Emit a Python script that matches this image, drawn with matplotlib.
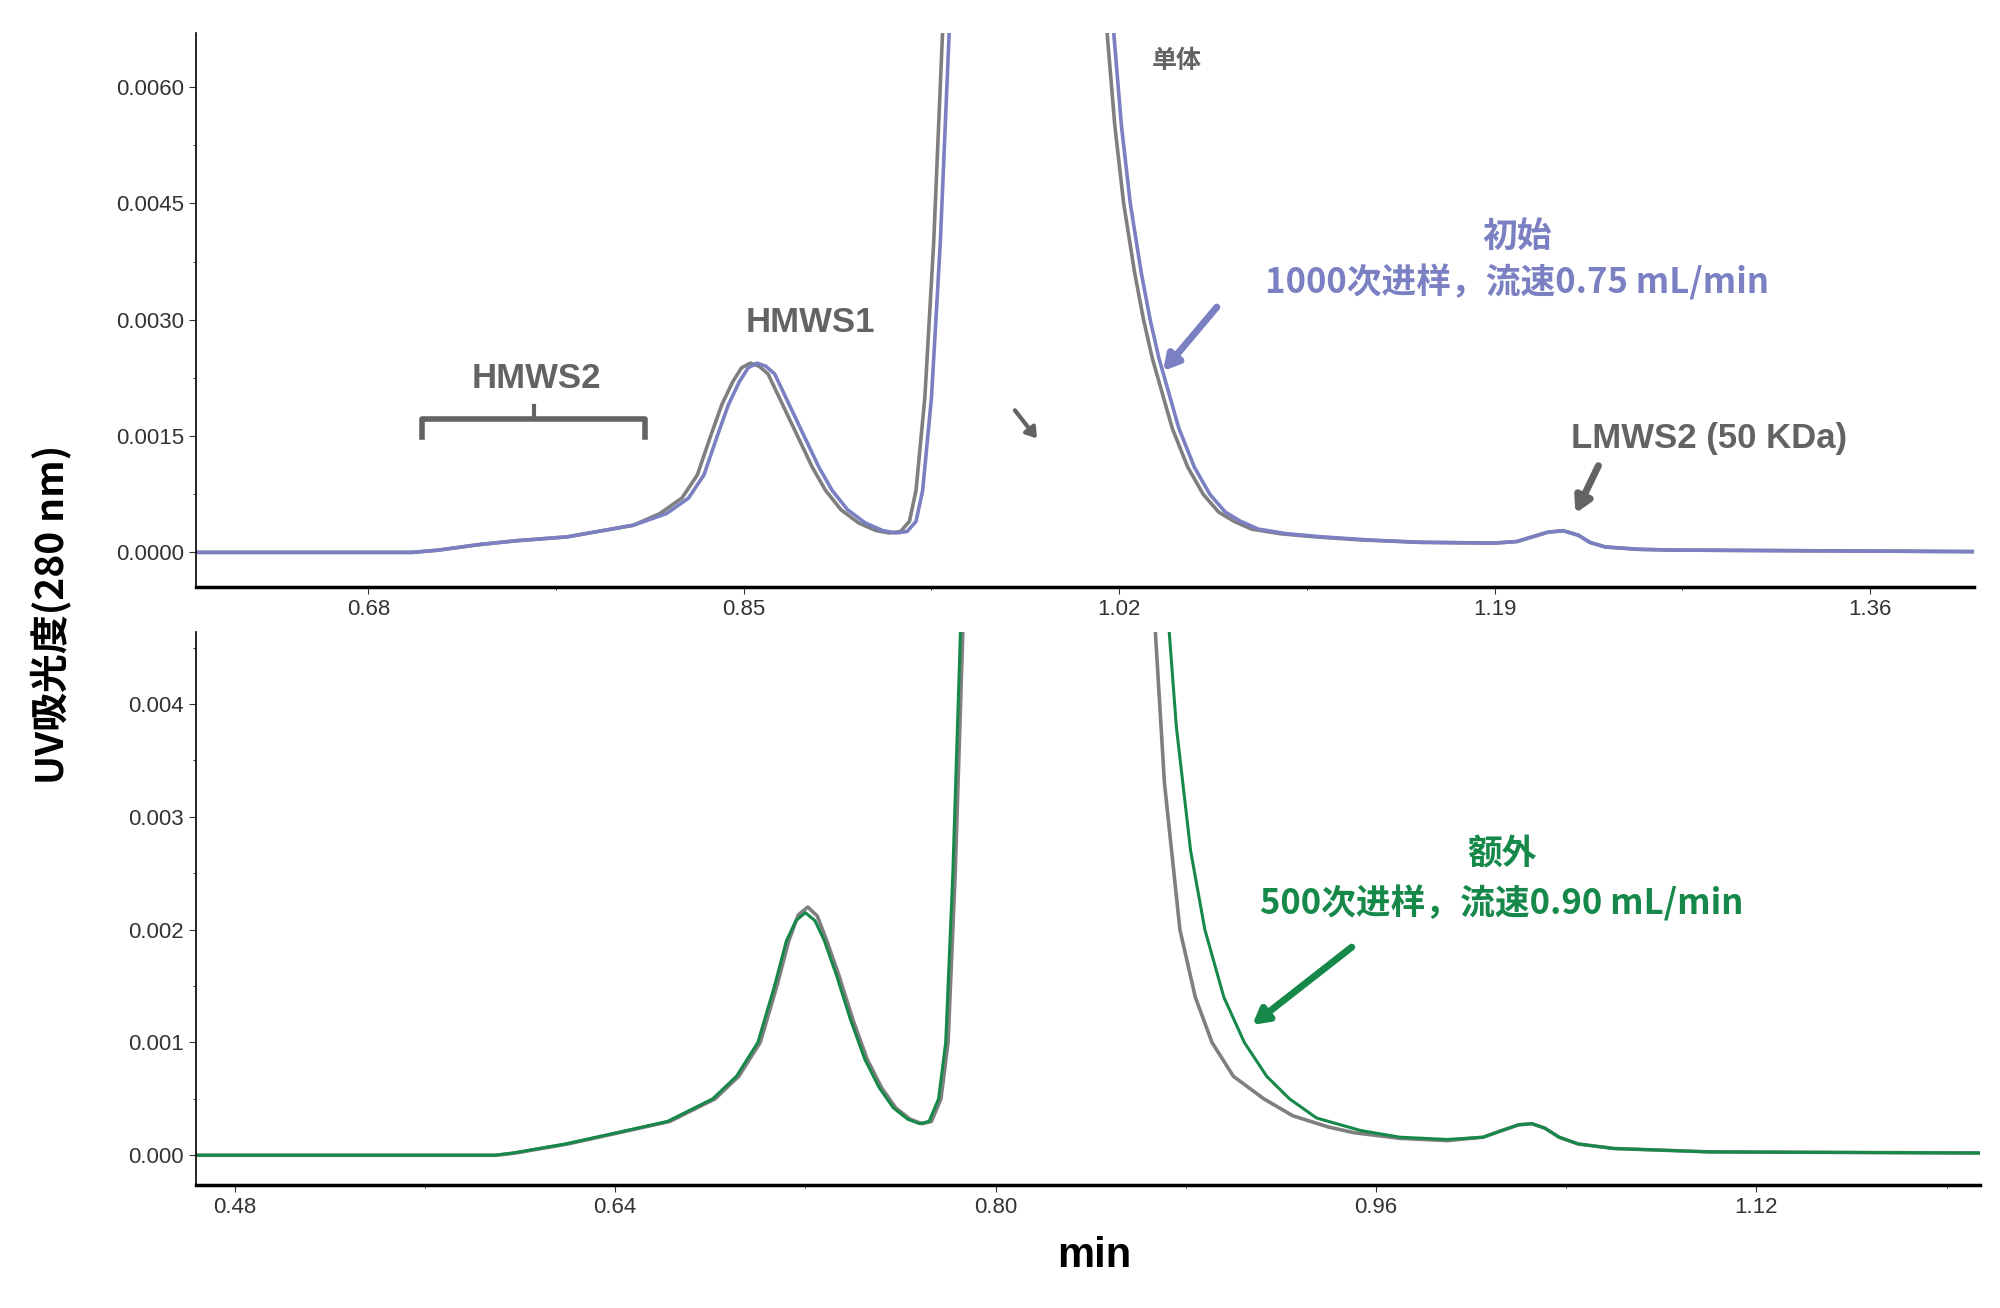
import matplotlib
matplotlib.use("Agg")
import matplotlib.pyplot as plt
from matplotlib.ticker import MultipleLocator
from matplotlib import font_manager as fm

# ---- data ----
top_gray_x = [0.602,0.70,0.712,0.73,0.747,0.77,0.80,0.812,0.822,0.829,0.835,0.840,0.845,0.849,0.853,0.857,0.861,0.866,0.871,0.876,0.881,0.887,0.894,0.902,0.910,0.916,0.921,0.925,0.928,0.932,0.936,0.940,0.945,0.96,0.98,1.0,1.010,1.0145,1.018,1.022,1.027,1.031,1.035,1.039,1.044,1.051,1.058,1.065,1.072,1.08,1.093,1.109,1.13,1.156,1.19,1.200,1.207,1.214,1.221,1.228,1.233,1.240,1.255,1.27,1.407]
top_gray_y = [0.0,0.0,0.00003,0.0001,0.00015,0.0002,0.00035,0.0005,0.0007,0.001,0.0015,0.0019,0.0022,0.00238,0.00244,0.0024,0.0023,0.0020,0.0017,0.0014,0.0011,0.0008,0.00055,0.00038,0.00028,0.00025,0.00027,0.0004,0.0008,0.002,0.004,0.0067,0.012,0.03,0.05,0.03,0.012,0.0067,0.0055,0.0045,0.0036,0.003,0.0025,0.0021,0.0016,0.0011,0.00075,0.00052,0.0004,0.0003,0.00024,0.0002,0.00016,0.00013,0.00012,0.00014,0.0002,0.00026,0.00028,0.00022,0.00013,0.00007,0.00004,0.00003,0.00001]
top_blue_x = [v + (0.003 if 0.81 < v < 1.15 else 0.0) for v in top_gray_x]
top_blue_y = top_gray_y

bot_gray_x = [0.4637,0.59,0.598,0.62,0.6416,0.663,0.682,0.692,0.701,0.708,0.713,0.717,0.721,0.725,0.729,0.734,0.740,0.746,0.752,0.758,0.764,0.769,0.773,0.777,0.780,0.783,0.786,0.790,0.795,0.81,0.83,0.85,0.860,0.864,0.867,0.871,0.8775,0.884,0.891,0.90,0.9128,0.925,0.94,0.9507,0.97,0.99,1.005,1.013,1.020,1.0255,1.031,1.037,1.045,1.06,1.10,1.214]
bot_gray_y = [0.0,0.0,0.00002,0.0001,0.0002,0.0003,0.0005,0.0007,0.001,0.0015,0.0019,0.00213,0.0022,0.00212,0.0019,0.0016,0.0012,0.00085,0.0006,0.00042,0.00032,0.00028,0.0003,0.0005,0.001,0.0025,0.0045,0.0075,0.012,0.03,0.05,0.03,0.009,0.0065,0.0047,0.0033,0.002,0.0014,0.001,0.0007,0.0005,0.00035,0.00025,0.0002,0.00015,0.00013,0.00016,0.00022,0.00027,0.00028,0.00024,0.00016,0.0001,0.00006,0.00003,0.00002]
bot_green_x = [v - 0.001 if v < 0.80 else v for v in bot_gray_x[:29]] + [0.81,0.83,0.852,0.863,0.8678,0.871,0.876,0.882,0.888,0.896,0.9046,0.914,0.9236,0.935,0.9534,0.97,0.99,1.005,1.013,1.020,1.0255,1.031,1.037,1.045,1.06,1.10,1.214]
bot_green_y = bot_gray_y[:10] + [0.0019,0.00208,0.00215,0.00208,0.0019] + bot_gray_y[15:29] + [0.03,0.05,0.03,0.009,0.0065,0.0052,0.0038,0.0027,0.002,0.0014,0.001,0.0007,0.0005,0.00033,0.00022,0.00016,0.00014,0.00016,0.00022,0.00027,0.00028,0.00024,0.00016,0.0001,0.00006,0.00003,0.00002]

top_xticks = [0.68,0.85,1.02,1.19,1.36]
top_yticks = [0.0000,0.0015,0.0030,0.0045,0.0060]
bot_xticks = [0.48,0.64,0.80,0.96,1.12]
bot_yticks = [0.000,0.001,0.002,0.003,0.004]

GRAY = "#7f7f7f"; BLUE = "#7a80c2"; GREEN = "#16894a"; TXT = "#636363"
LAT = "Liberation Sans"

def find_cjk(bold=True):
    cands = [f for f in fm.findSystemFonts() if "CJK" in f or "NotoSansSC" in f or "NotoSansCJK" in f]
    pref = [f for f in cands if ("Bold" in f) == bold] or cands
    pref.sort(key=lambda f: (0 if "SC" in f else 1, 0 if f.endswith((".otf", ".ttf")) else 1))
    return pref[0] if pref else None

_f = find_cjk(True)
def cjk(size):
    if _f:
        return fm.FontProperties(fname=_f, size=size)
    return fm.FontProperties(family="Noto Sans CJK SC", weight="bold", size=size)

fig = plt.figure(figsize=(20, 13.08), dpi=100)
ax1 = fig.add_axes([0.098, 0.551, 0.889, 0.424])
ax2 = fig.add_axes([0.098, 0.094, 0.892, 0.423])

ax1.plot(top_gray_x, top_gray_y, color=GRAY, lw=2.6)
ax1.plot(top_blue_x, top_blue_y, color=BLUE, lw=2.6)
ax1.set_xlim(0.602, 1.407); ax1.set_ylim(-0.00045, 0.0067)
ax2.plot(bot_gray_x, bot_gray_y, color=GRAY, lw=2.6)
ax2.plot(bot_green_x, bot_green_y, color=GREEN, lw=2.2)
ax2.set_xlim(0.4637, 1.214); ax2.set_ylim(-0.000264, 0.00464)

for ax, xt, yt, fmt, xm, ym in [(ax1, top_xticks, top_yticks, "{:.4f}", 0.085, 0.00075),
                                (ax2, bot_xticks, bot_yticks, "{:.3f}", 0.08, 0.0005)]:
    ax.spines["top"].set_visible(False); ax.spines["right"].set_visible(False)
    ax.spines["left"].set_linewidth(1.2); ax.spines["bottom"].set_linewidth(2.5)
    ax.set_xticks(xt); ax.set_xticklabels([f"{v:.2f}" for v in xt])
    ax.set_yticks(yt); ax.set_yticklabels([fmt.format(v) for v in yt])
    ax.xaxis.set_minor_locator(MultipleLocator(xm)); ax.yaxis.set_minor_locator(MultipleLocator(ym))
    ax.tick_params(labelsize=16, length=5, colors="#333333")
    for lab in ax.get_xticklabels() + ax.get_yticklabels():
        lab.set_fontfamily(LAT)

def txt(ax, x, y, s, c, size=25):
    ax.text(x, y, s, color=c, fontsize=size, fontweight="bold", ha="center", va="center", fontfamily=LAT)

def ctxt(ax, x, y, s, c, size=24):
    ax.text(x, y, s, color=c, fontproperties=cjk(size), ha="center", va="center")

ctxt(ax1, 1.046, 0.00633, "单体", TXT, 18)
ctxt(ax1, 1.2, 0.00408, "初始", BLUE, 25)
ctxt(ax1, 1.2, 0.00348, "1000次进样，流速0.75 mL/min", BLUE, 25)
txt(ax1, 0.88, 0.00297, "HMWS1", TXT)
txt(ax1, 0.756, 0.00224, "HMWS2", TXT)
txt(ax1, 1.287, 0.00147, "LMWS2 (50 KDa)", TXT)
ax1.plot([0.7045, 0.7045, 0.8055, 0.8055], [0.00149, 0.00172, 0.00172, 0.00149], color=TXT, lw=4)
ax1.plot([0.755, 0.755], [0.00172, 0.00189], color=TXT, lw=3)
arr = dict(arrowstyle="-|>,head_width=0.5,head_length=0.9", lw=5)
ax1.annotate("", xy=(1.039, 0.00231), xytext=(1.065, 0.00319), arrowprops=dict(arr, color=BLUE))
ax1.annotate("", xy=(0.9835, 0.00144), xytext=(0.972, 0.00186),
             arrowprops=dict(arrowstyle="-|>,head_width=0.4,head_length=0.6", lw=3, color=TXT))
ax1.annotate("", xy=(1.226, 0.00047), xytext=(1.2375, 0.00115), arrowprops=dict(arr, color=TXT))

ctxt(ax2, 1.013, 0.00267, "额外", GREEN, 25)
ctxt(ax2, 1.013, 0.00223, "500次进样，流速0.90 mL/min", GREEN, 25)
ax2.annotate("", xy=(0.907, 0.00114), xytext=(0.9507, 0.00186), arrowprops=dict(arr, color=GREEN))

fig.text(0.026, 0.53, "UV吸光度(280 nm)", rotation=90, fontproperties=cjk(28),
         ha="center", va="center")
fig.text(0.547, 0.04, "min", fontsize=30, fontweight="bold", fontfamily=LAT, ha="center", va="center")

fig.savefig("out.png", dpi=100, facecolor="white")
